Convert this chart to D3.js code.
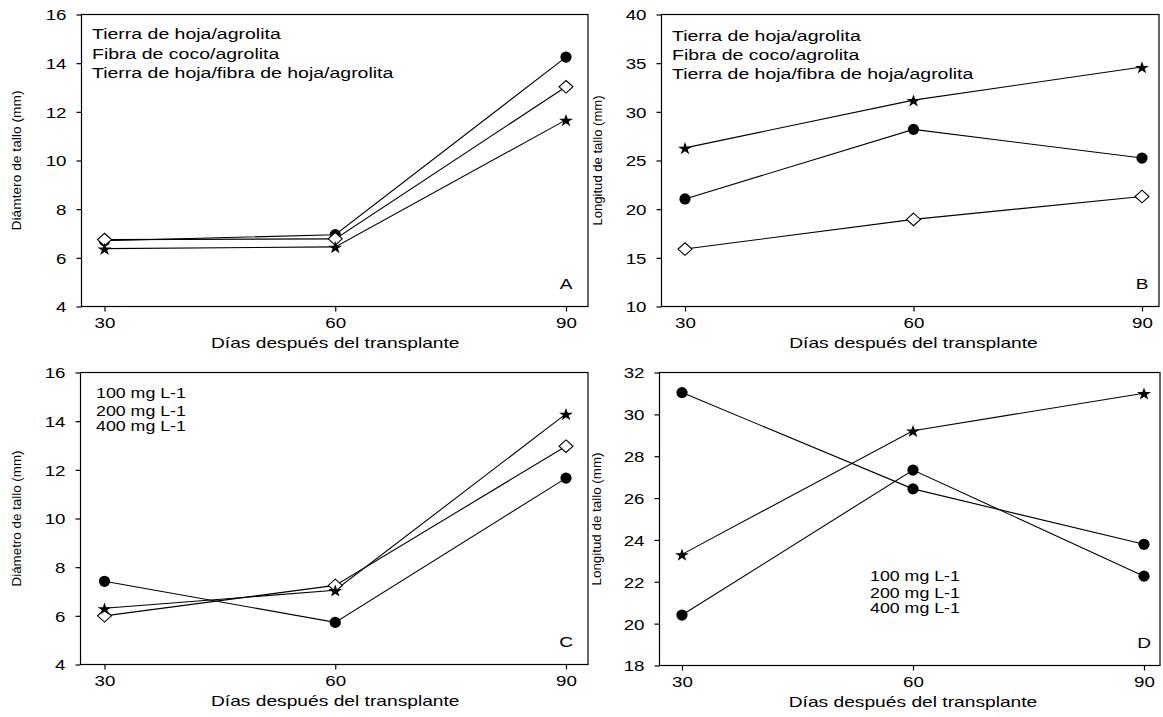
<!DOCTYPE html>
<html><head><meta charset="utf-8">
<script src="https://cdn.jsdelivr.net/npm/d3@7"></script>
<style>
html,body{margin:0;padding:0;background:#fff;}
text{font-family:"Liberation Sans",Arial,sans-serif;fill:#000;}
</style></head>
<body>
<svg id="chart" width="1163" height="717"></svg>
<script>
// ---- data ----
const days = [30, 60, 90];
const xTicks = [30, 60, 90];
const yTicksDiam = [4, 6, 8, 10, 12, 14, 16];
const yTicksLongB = [10, 15, 20, 25, 30, 35, 40];
const yTicksLongD = [18, 20, 22, 24, 26, 28, 30, 32];

const aCircle  = [6.70, 6.95, 14.25];
const aDiamond = [6.75, 6.78, 13.03];
const aStar    = [6.38, 6.45, 11.67];

const bStar    = [26.3, 31.2, 34.6];
const bCircle  = [21.05, 28.2, 25.25];
const bDiamond = [15.9, 18.95, 21.3];

const cCircle  = [7.42, 5.73, 11.66];
const cDiamond = [6.00, 7.25, 12.97];
const cStar    = [6.31, 7.05, 14.30];

const dCircle1 = [31.04, 26.44, 23.79];
const dCircle2 = [20.41, 27.34, 22.27];
const dStar    = [23.31, 29.22, 31.01];

const legendSustrato = ["Tierra de hoja/agrolita", "Fibra de coco/agrolita", "Tierra de hoja/fibra de hoja/agrolita"];
const legendDosis = ["100 mg L-1", "200 mg L-1", "400  mg L-1"];
const xTitle = "Días después del transplante";

// ---- layout ----
const SX = 1.27;
const svg = d3.select("#chart");

const diamondSym = { draw(ctx, size) { const w = 7, h = 6.3; ctx.moveTo(0,-h); ctx.lineTo(w,0); ctx.lineTo(0,h); ctx.lineTo(-w,0); ctx.closePath(); } };

function stext(g, x, y, str, size, anchor, sx) {
  return g.append("text").attr("transform", `translate(${x},${y}) scale(${sx || SX},1)`)
    .attr("font-size", size).attr("text-anchor", anchor || "start").text(str);
}

const panels = [
  { frame:[81.5,588,14.5,306.5], xr:[104.5,566], domain:[4,16], ticks:yTicksDiam, ylab:"Diámtero de tallo (mm)", ylabX:21, ylabLen:140,
    series:[{v:aCircle,m:"c"},{v:aDiamond,m:"d"},{v:aStar,m:"s"}], letter:"A",
    legend:legendSustrato, legSize:15, legSX:1.3, legX:92, legY:[39,58.5,77.5] },
  { frame:[661.5,1159,14.5,306.5], xr:[685,1142], domain:[10,40], ticks:yTicksLongB, ylab:"Longitud de tallo (mm)", ylabX:602, ylabLen:130,
    series:[{v:bStar,m:"s"},{v:bCircle,m:"c"},{v:bDiamond,m:"d"}], letter:"B",
    legend:legendSustrato, legSize:15, legSX:1.3, legX:672, legY:[40.5,59.5,78.5] },
  { frame:[80.5,588,372.5,664.5], xr:[104.5,566], domain:[4,16], ticks:yTicksDiam, ylab:"Diámetro de tallo (mm)", ylabX:21, ylabLen:136,
    series:[{v:cCircle,m:"c"},{v:cDiamond,m:"d"},{v:cStar,m:"s"}], letter:"C",
    legend:legendDosis, legSize:14, legSX:1.27, legX:96, legY:[398,416,430.5] },
  { frame:[659.5,1160,372.5,665.5], xr:[682,1144], domain:[18,32], ticks:yTicksLongD, ylab:"Longitud de tallo (mm)", ylabX:601, ylabLen:133,
    series:[{v:dCircle1,m:"c"},{v:dCircle2,m:"c"},{v:dStar,m:"s"}], letter:"D",
    legend:legendDosis, legSize:14, legSX:1.27, legX:870, legY:[580.5,598,613] }
];

panels.forEach(p => {
  const [l, r, t, b] = p.frame;
  const x = d3.scaleLinear().domain([30, 90]).range(p.xr);
  const y = d3.scaleLinear().domain(p.domain).range([b, t]);
  const g = svg.append("g");

  // frame
  g.append("rect").attr("x", l).attr("y", t).attr("width", r - l).attr("height", b - t)
    .attr("fill", "none").attr("stroke", "#000").attr("stroke-width", 1.2);

  // y axis
  const ya = g.append("g").attr("transform", `translate(${l},0)`)
    .call(d3.axisLeft(y).tickValues(p.ticks).tickSize(5).tickFormat(d3.format("d")));
  ya.select(".domain").remove();
  ya.selectAll(".tick line").attr("stroke", "#000").attr("stroke-width", 1.2);
  ya.selectAll(".tick text").attr("x", null).attr("dy", "0.36em")
    .attr("transform", `translate(-15,0) scale(1.25,1)`)
    .attr("font-size", 15).attr("font-family", "Liberation Sans, Arial, sans-serif").attr("fill", "#000");

  // x axis
  const xa = g.append("g").attr("transform", `translate(0,${b})`)
    .call(d3.axisBottom(x).tickValues(xTicks).tickSize(5).tickFormat(d3.format("d")));
  xa.select(".domain").remove();
  xa.selectAll(".tick line").attr("stroke", "#000").attr("stroke-width", 1.2);
  xa.selectAll(".tick text").attr("y", null).attr("dy", null)
    .attr("transform", `translate(0,21) scale(1.25,1)`)
    .attr("font-size", 15).attr("font-family", "Liberation Sans, Arial, sans-serif").attr("fill", "#000");

  // x title
  stext(g, (p.xr[0] + p.xr[1]) / 2, b + 41, xTitle, 15, "middle", 1.28);

  // y title
  g.append("text")
    .attr("transform", `translate(${p.ylabX},${(t + b) / 2}) rotate(-90) scale(1,1.2)`)
    .attr("text-anchor", "middle").attr("font-size", 11)
    .attr("textLength", p.ylabLen).attr("lengthAdjust", "spacingAndGlyphs")
    .text(p.ylab);

  // legend text
  p.legend.forEach((s, i) => stext(g, p.legX, p.legY[i], s, p.legSize, "start", p.legSX));

  // panel letter
  stext(g, x(90), b - 18, p.letter, 15, "middle", 1.27);

  // lines
  const line = d3.line().x((d, i) => x(days[i])).y(d => y(d));
  p.series.forEach(s => {
    g.append("path").datum(s.v).attr("d", line)
      .attr("fill", "none").attr("stroke", "#000").attr("stroke-width", 1.1);
  });
  // markers
  p.series.forEach(s => {
    s.v.forEach((v, i) => {
      const cx = x(days[i]), cy = y(v);
      if (s.m === "c") {
        g.append("circle").attr("cx", cx).attr("cy", cy).attr("r", 5.6).attr("fill", "#000");
      } else if (s.m === "d") {
        g.append("path").attr("transform", `translate(${cx},${cy})`)
          .attr("d", d3.symbol().type(diamondSym)()).attr("fill", "#fff").attr("stroke", "#000").attr("stroke-width", 1.1);
      } else {
        g.append("path").attr("transform", `translate(${cx},${cy + 0.9}) scale(1.1,1)`)
          .attr("d", d3.symbol().type(d3.symbolStar).size(50)()).attr("fill", "#000");
      }
    });
  });
});
</script>
</body></html>
